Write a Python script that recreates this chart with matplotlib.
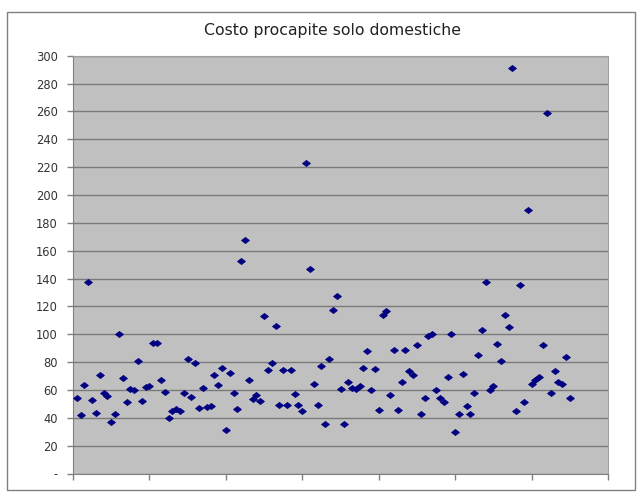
import numpy as np
import matplotlib.pyplot as plt
from matplotlib.patches import Rectangle

plt.rcParams['font.family'] = ['DejaVu Sans']

# cost per capita, households only (one point per record, x = record number)
costo = [
    54, 42, 63.5, 137.5, 53, 43.5, 71, 58, 56, 37,
    42.5, 100.5, 68.5, 51, 61, 60, 81, 52, 62, 63,
    94, 94, 67, 58.5, 39.5, 45, 46.5, 45, 58, 82,
    55, 79, 47, 61.5, 47.5, 48.5, 71, 63.5, 76, 31.5,
    72, 57.5, 46.5, 152.5, 167.5, 67, 53.5, 56.5, 52, 113,
    74, 79.5, 106, 49, 74.5, 49, 74.5, 57, 49.5, 45,
    223, 147, 64, 49, 77.5, 35.5, 82.5, 117.5, 127.5, 61,
    35.5, 66, 61.5, 60.5, 63, 76, 88, 60, 75, 45.5,
    114, 117, 56.5, 89, 45.5, 65.5, 89, 73.5, 71, 92.5,
    43, 54.5, 98.5, 100, 60, 54.5, 51.5, 69, 100, 29.5,
    43, 71.5, 48.5, 42.5, 57.5, 85, 103, 137.5, 60, 63,
    93, 81, 114, 105, 291.5, 45, 135.5, 51.5, 189, 64.5,
    67, 69.5, 92.5, 259, 58, 73.5, 66, 64, 84, 54,
]
indice = np.arange(1, len(costo) + 1)

y_ticks = list(range(0, 301, 20))
y_labels = ['-'] + [str(v) for v in y_ticks[1:]]
x_ticks = list(range(0, 141, 20))

# Excel-like diamond, a bit wider than tall
diamante = [(-1, 0), (0, 0.78), (1, 0), (0, -0.78), (-1, 0)]

fig = plt.figure(figsize=(6.41, 4.96), dpi=100)
fig.patch.set_facecolor('white')

# chart area border
fig.patches.append(Rectangle((7 / 641, 1 - 490 / 496), 628 / 641, 478 / 496,
                             transform=fig.transFigure, fill=False,
                             edgecolor='#808080', linewidth=1.0))

ax = fig.add_axes([73 / 641, 22.5 / 496, 535 / 641, 417.8 / 496])
ax.set_facecolor('#C0C0C0')

ax.plot(indice, costo, linestyle='none', marker=diamante, markersize=5.6,
        color='#000080', markeredgecolor='#000080', markeredgewidth=0.6,
        zorder=3)

ax.set_xlim(0, 140)
ax.set_ylim(0, 300)
ax.set_xticks(x_ticks)
ax.set_xticklabels([])
ax.set_yticks(y_ticks)
ax.set_yticklabels(y_labels, fontsize=8.3, color='#333333')

ax.yaxis.grid(True, color='#7a7a7a', linewidth=1.0)
ax.set_axisbelow(True)
ax.tick_params(axis='both', direction='out', length=4, color='#808080',
               width=1.0, pad=7)
ax.tick_params(axis='x', pad=2)
for side in ['top', 'right']:
    ax.spines[side].set_color('#a0a0a0')
for side in ['left', 'bottom']:
    ax.spines[side].set_color('#808080')

fig.text(332 / 641, 1 - 30 / 496, 'Costo procapite solo domestiche',
         ha='center', va='center', fontsize=11.3, color='#222222')

fig.savefig('out.png', dpi=100)
